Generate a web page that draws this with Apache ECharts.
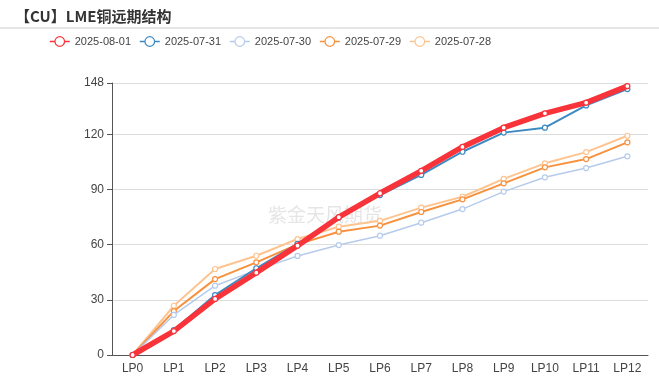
<!DOCTYPE html>
<html><head><meta charset="utf-8">
<script src="https://cdn.jsdelivr.net/npm/echarts@6/dist/echarts.min.js"></script>
<style>html,body{margin:0;padding:0;background:#fff}#c{width:659px;height:383px}</style>
</head><body><div id="c"></div>
<script>
var categories = ['LP0','LP1','LP2','LP3','LP4','LP5','LP6','LP7','LP8','LP9','LP10','LP11','LP12'];
var seriesNames = ['2025-08-01','2025-07-31','2025-07-30','2025-07-29','2025-07-28'];
var s0801 = [0, 13, 30.5, 44.8, 59.5, 75, 88, 100.2, 113.2, 123.7, 131.5, 137.3, 146.3];
var s0731 = [0, 13.6, 32.6, 47.2, 60.5, 74.7, 87, 98, 110.6, 121, 123.7, 135.8, 144.7];
var s0730 = [0, 21.8, 37.7, 46.2, 53.9, 59.8, 64.9, 72, 79.4, 88.9, 96.7, 101.7, 108.1];
var s0729 = [0, 23.9, 41.3, 50.4, 60.2, 67.1, 70.4, 77.8, 84.7, 93.4, 102.1, 106.6, 115.7];
var s0728 = [0, 26.8, 46.8, 54, 63.1, 69.8, 73, 80.2, 86.1, 95.8, 104.3, 110.4, 119.3];
var yTicks = {min: 0, max: 148, interval: 30};
var colors = ['#f8333a', '#3d89c4', '#b6cbeb', '#f7913d', '#fec490'];
var widths = [5.5, 2, 1.5, 2, 2];
var dataList = [s0801, s0731, s0730, s0729, s0728];

var chart = echarts.init(document.getElementById('c'));
var series = dataList.map(function(d, i){
  return {
    name: seriesNames[i], type: 'line', data: d,
    symbol: 'circle', symbolSize: 5, showSymbol: true,
    z: 10 - i,
    lineStyle: {color: colors[i], width: widths[i]},
    itemStyle: {color: '#fff', borderColor: colors[i], borderWidth: 1.2}
  };
});
series[0].z = 20;
chart.setOption({
  animation: false,
  color: colors,
  title: {text: '【CU】LME铜远期结构', left: 10, top: 4,
    textStyle: {fontSize: 15, fontWeight: 'bold', color: '#333', fontFamily: 'Noto Sans CJK SC'}},
  graphic: [
    {type: 'line', shape: {x1: 0, y1: 28, x2: 659, y2: 28}, style: {stroke: '#ccc', lineWidth: 1}},
    {type: 'text', left: 268, top: 205, z: 0, style: {text: '紫金天风期货', fontSize: 19, fill: 'rgba(170,170,170,0.3)', fontFamily: 'Noto Sans CJK SC'}}
  ],
  legend: {top: 31, left: 44, itemWidth: 20, itemHeight: 12, itemGap: 8,
    lineStyle: {width: 1.5},
    itemStyle: {borderWidth: 1.2},
    textStyle: {fontSize: 11, color: '#444', fontFamily: 'Liberation Sans'},
    data: seriesNames
  },
  grid: {left: 112, right: 11, top: 83, bottom: 28},
  xAxis: {type: 'category', data: categories, boundaryGap: true,
    axisLine: {lineStyle: {color: '#555'}},
    axisTick: {alignWithLabel: true, lineStyle: {color: '#555'}},
    axisLabel: {color: '#444', fontSize: 12, margin: 8}},
  yAxis: {type: 'value', min: yTicks.min, max: yTicks.max, interval: yTicks.interval,
    axisLine: {show: true, lineStyle: {color: '#555'}},
    axisTick: {show: true, lineStyle: {color: '#555'}},
    axisLabel: {color: '#444', fontSize: 12, showMaxLabel: true},
    splitLine: {lineStyle: {color: '#ddd'}}},
  series: series
});
</script></body></html>
